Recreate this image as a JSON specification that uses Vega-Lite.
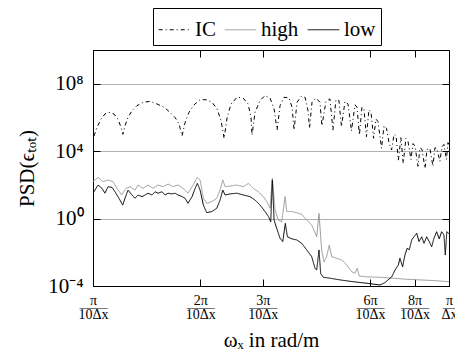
{
  "$schema": "https://vega.github.io/schema/vega-lite/v6.json",
  "width": 356,
  "height": 236,
  "autosize": "none",
  "padding": {"left": 93, "top": 50, "right": 6, "bottom": 70},
  "config": {
    "font": "Liberation Serif",
    "view": {"stroke": "black", "strokeWidth": 1},
    "axis": {"labelFont": "Liberation Serif", "titleFont": "Liberation Serif", "labelColor": "black", "titleColor": "black", "titleFontWeight": "normal", "tickColor": "black", "domainColor": "black"},
    "legend": {"labelFont": "Liberation Serif"}
  },
  "resolve": {"axis": {"x": "independent", "y": "independent"}},
  "datasets": {
    "ic": [
      {"w":1.0065,"v":7.9e4},{"w":1.026,"v":2.5e5},{"w":1.053,"v":7.9e5},{"w":1.08,"v":1.6e6},{"w":1.109,"v":2.0e6},{"w":1.145,"v":1.6e6},{"w":1.176,"v":7.9e5},{"w":1.199,"v":2.5e5},{"w":1.214,"v":1.0e5},{"w":1.23,"v":3.2e5},{"w":1.254,"v":1.0e6},{"w":1.287,"v":2.5e6},{"w":1.329,"v":5.0e6},{"w":1.382,"v":7.9e6},{"w":1.446,"v":8.9e6},{"w":1.513,"v":6.3e6},{"w":1.584,"v":4.0e6},{"w":1.646,"v":2.0e6},{"w":1.7,"v":1.0e6},{"w":1.745,"v":4.0e5},{"w":1.779,"v":7.9e4},{"w":1.814,"v":5.0e5},{"w":1.861,"v":2.0e6},{"w":1.923,"v":5.6e6},{"w":1.999,"v":1.12e7},{"w":2.078,"v":1.12e7},{"w":2.16,"v":7.9e6},{"w":2.231,"v":3.2e6},{"w":2.29,"v":6.3e5},{"w":2.335,"v":5.6e4},{"w":2.381,"v":1.0e6},{"w":2.443,"v":6.3e6},{"w":2.54,"v":1.58e7},{"w":2.64,"v":1.41e7},{"w":2.727,"v":6.3e6},{"w":2.779,"v":1.0e6},{"w":2.797,"v":8.9e4},{"w":2.852,"v":2.0e6},{"w":2.946,"v":1.0e7},{"w":3.043,"v":2.0e7},{"w":3.143,"v":1.41e7},{"w":3.226,"v":3.2e6},{"w":3.289,"v":1.78e5},{"w":3.353,"v":5.0e6},{"w":3.441,"v":1.58e7},{"w":3.554,"v":1.41e7},{"w":3.624,"v":4.0e6},{"w":3.671,"v":1.78e5},{"w":3.743,"v":7.9e6},{"w":3.841,"v":1.78e7},{"w":3.942,"v":1.58e7},{"w":4.019,"v":2.5e6},{"w":4.057,"v":2.24e5},{"w":4.123,"v":7.9e6},{"w":4.231,"v":1.41e7},{"w":4.34,"v":7.9e6},{"w":4.396,"v":3.2e5},{"w":4.512,"v":8.9e6},{"w":4.63,"v":1.26e7},{"w":4.721,"v":1.78e5},{"w":4.813,"v":1.12e7},{"w":4.908,"v":1.0e7},{"w":4.988,"v":2.82e5},{"w":5.103,"v":8.9e6},{"w":5.203,"v":6.3e6},{"w":5.322,"v":1.58e5},{"w":5.443,"v":5.6e6},{"w":5.515,"v":4.0e6},{"w":5.602,"v":9.1e4},{"w":5.693,"v":4.0e6},{"w":5.768,"v":3.2e6},{"w":5.863,"v":7.2e4},{"w":5.957,"v":2.8e6},{"w":6.039,"v":2.0e6},{"w":6.139,"v":5.8e4},{"w":6.238,"v":7.9e5},{"w":6.319,"v":5.6e5},{"w":6.463,"v":1.48e4},{"w":6.568,"v":3.2e5},{"w":6.675,"v":2.24e5},{"w":6.784,"v":3.2e4},{"w":6.897,"v":1.17e4},{"w":7.01,"v":1.0e5},{"w":7.1,"v":7.9e4},{"w":7.209,"v":2.95e3},{"w":7.327,"v":6.3e4},{"w":7.437,"v":1.9e3},{"w":7.568,"v":5.6e4},{"w":7.667,"v":4.0e4},{"w":7.82,"v":3.2e3},{"w":7.922,"v":2.8e4},{"w":8.026,"v":2.0e4},{"w":8.183,"v":1.26e3},{"w":8.29,"v":1.58e4},{"w":8.398,"v":1.26e4},{"w":8.563,"v":955},{"w":8.675,"v":1.26e4},{"w":8.84,"v":1.41e4},{"w":9.013,"v":1.26e3},{"w":9.131,"v":1.58e4},{"w":9.25,"v":1.41e4},{"w":9.43,"v":2.5e3},{"w":9.553,"v":1.78e4},{"w":9.678,"v":2.5e4},{"w":9.837,"v":3.2e3},{"w":9.932,"v":3.2e4},{"w":10,"v":2.5e4}
    ],
    "high": [
      {"w":1.0,"v":155},{"w":1.033,"v":282},{"w":1.0665,"v":155},{"w":1.102,"v":195},{"w":1.138,"v":155},{"w":1.176,"v":49},{"w":1.204,"v":25},{"w":1.238,"v":62},{"w":1.27,"v":78},{"w":1.312,"v":49},{"w":1.338,"v":98},{"w":1.382,"v":62},{"w":1.427,"v":98},{"w":1.474,"v":62},{"w":1.523,"v":98},{"w":1.573,"v":78},{"w":1.625,"v":112},{"w":1.678,"v":78},{"w":1.734,"v":98},{"w":1.79,"v":62},{"w":1.849,"v":32},{"w":1.911,"v":98},{"w":1.964,"v":282},{"w":1.999,"v":195},{"w":2.042,"v":16},{"w":2.087,"v":8.1},{"w":2.156,"v":10},{"w":2.227,"v":16},{"w":2.275,"v":49},{"w":2.315,"v":195},{"w":2.35,"v":78},{"w":2.427,"v":85},{"w":2.535,"v":98},{"w":2.645,"v":78},{"w":2.733,"v":123},{"w":2.821,"v":62},{"w":2.914,"v":39},{"w":3.01,"v":20},{"w":3.077,"v":10},{"w":3.143,"v":4.1},{"w":3.19,"v":245},{"w":3.246,"v":3.2},{"w":3.317,"v":0.81},{"w":3.39,"v":0.65},{"w":3.463,"v":20},{"w":3.502,"v":2.6},{"w":3.617,"v":2.6},{"w":3.736,"v":2.24},{"w":3.858,"v":1.78},{"w":3.985,"v":0.81},{"w":4.115,"v":0.42},{"w":4.25,"v":0.083},{"w":4.314,"v":2.0},{"w":4.388,"v":0.0138},{"w":4.454,"v":0.00275},{"w":4.533,"v":0.0055},{"w":4.609,"v":0.027},{"w":4.681,"v":0.0055},{"w":4.836,"v":0.0044},{"w":4.995,"v":0.0035},{"w":5.159,"v":0.0018},{"w":5.328,"v":0.00071},{"w":5.443,"v":0.00056},{"w":5.524,"v":0.00112},{"w":5.595,"v":0.00039},{"w":5.87,"v":0.00035},{"w":6.4,"v":0.00033},{"w":6.977,"v":0.00029},{"w":7.603,"v":0.00025},{"w":8.29,"v":0.00023},{"w":9.02,"v":0.00021},{"w":10,"v":0.00018}
    ],
    "low": [
      {"w":1.0,"v":31.6},{"w":1.033,"v":98},{"w":1.06,"v":62},{"w":1.08,"v":32},{"w":1.102,"v":78},{"w":1.131,"v":71},{"w":1.153,"v":39},{"w":1.183,"v":16},{"w":1.212,"v":6.3},{"w":1.23,"v":16},{"w":1.254,"v":49},{"w":1.287,"v":25},{"w":1.312,"v":16},{"w":1.338,"v":25},{"w":1.373,"v":20},{"w":1.4,"v":25},{"w":1.427,"v":32},{"w":1.465,"v":25},{"w":1.494,"v":39},{"w":1.523,"v":32},{"w":1.563,"v":39},{"w":1.594,"v":25},{"w":1.625,"v":32},{"w":1.667,"v":29},{"w":1.7,"v":32},{"w":1.734,"v":25},{"w":1.779,"v":20},{"w":1.814,"v":16},{"w":1.849,"v":8.1},{"w":1.898,"v":20},{"w":1.936,"v":62},{"w":1.964,"v":123},{"w":1.999,"v":49},{"w":2.042,"v":6.3},{"w":2.087,"v":2.24},{"w":2.156,"v":2.6},{"w":2.227,"v":4.1},{"w":2.275,"v":12.6},{"w":2.315,"v":49},{"w":2.35,"v":25},{"w":2.427,"v":29},{"w":2.535,"v":32},{"w":2.645,"v":25},{"w":2.761,"v":20},{"w":2.852,"v":12.6},{"w":2.946,"v":6.3},{"w":3.043,"v":2.6},{"w":3.113,"v":1.29},{"w":3.157,"v":0.65},{"w":3.19,"v":195},{"w":3.226,"v":0.81},{"w":3.282,"v":0.26},{"w":3.353,"v":0.068},{"w":3.412,"v":0.043},{"w":3.47,"v":0.52},{"w":3.516,"v":0.083},{"w":3.617,"v":0.063},{"w":3.736,"v":0.054},{"w":3.858,"v":0.034},{"w":3.985,"v":0.0138},{"w":4.115,"v":0.0055},{"w":4.204,"v":0.00112},{"w":4.25,"v":0.00089},{"w":4.314,"v":0.0138},{"w":4.36,"v":0.00056},{"w":4.434,"v":0.00033},{"w":4.63,"v":0.00029},{"w":4.94,"v":0.00023},{"w":5.373,"v":0.00018},{"w":5.881,"v":0.000145},{"w":6.4,"v":0.000115},{"w":6.611,"v":0.000158},{"w":6.741,"v":0.00023},{"w":6.906,"v":0.00035},{"w":7.055,"v":0.00089},{"w":7.209,"v":0.0018},{"w":7.28,"v":0.0044},{"w":7.409,"v":0.00138},{"w":7.52,"v":0.0069},{"w":7.631,"v":0.0174},{"w":7.735,"v":0.0141},{"w":7.856,"v":0.054},{"w":7.974,"v":0.083},{"w":8.115,"v":0.135},{"w":8.236,"v":0.043},{"w":8.382,"v":0.083},{"w":8.508,"v":0.034},{"w":8.658,"v":0.083},{"w":8.8,"v":0.043},{"w":8.938,"v":0.021},{"w":9.073,"v":0.068},{"w":9.233,"v":0.166},{"w":9.388,"v":0.063},{"w":9.535,"v":0.166},{"w":9.678,"v":0.107},{"w":9.763,"v":0.0069},{"w":9.861,"v":0.166},{"w":10,"v":0.126}
    ]
  },
  "layer": [
    {
      "data": {"name": "ic"},
      "transform": [{"calculate": "'IC'", "as": "s"}],
      "mark": {"type": "line", "strokeWidth": 1, "clip": true},
      "encoding": {
        "x": {"field": "w", "type": "quantitative", "scale": {"type": "log", "domain": [1, 10], "nice": false},
          "axis": {"orient": "bottom", "values": [1, 2, 3, 6, 8, 10], "labelExpr": "datum.value == 1 ? ['π', '——', '10Δx'] : datum.value == 10 ? ['π', '—', 'Δx'] : [datum.value + 'π', '——', '10Δx']", "labelFontSize": 14, "labelLineHeight": 7, "labelBaseline": "top", "tickSize": -7, "labelPadding": 14, "grid": false, "title": "ωₓ in rad/m", "titleFontSize": 21, "titlePadding": 8, "labelFlush": false, "labelOverlap": false}},
        "y": {"field": "v", "type": "quantitative", "scale": {"type": "log", "domain": [0.0001, 1e10], "nice": false},
          "axis": {"orient": "left", "values": [0.0001, 1, 10000, 100000000], "labelExpr": "datum.value < 0.001 ? '10⁻⁴' : datum.value < 10 ? '10⁰' : datum.value < 1e6 ? '10⁴' : '10⁸'", "labelFontSize": 21, "tickSize": -7, "labelPadding": 17, "grid": true, "gridColor": "#b0b0b0", "gridWidth": 1, "title": "PSD(ϵₜₒₜ)", "titleFontSize": 21, "titlePadding": 10, "labelFlush": false, "labelOverlap": false}},
        "color": {"field": "s", "type": "nominal", "scale": {"domain": ["IC", "high", "low"], "range": ["black", "#9a9a9a", "black"]},
          "legend": {"title": null, "orient": "none", "legendX": 60, "legendY": -42, "direction": "horizontal", "symbolType": "stroke", "symbolSize": 1000, "symbolStrokeWidth": 1, "labelFontSize": 21, "labelOffset": 4, "columnPadding": 6, "strokeColor": "black", "padding": 5, "fillColor": "white"}},
        "strokeDash": {"field": "s", "type": "nominal", "scale": {"domain": ["IC", "high", "low"], "range": [[4, 3, 1, 3], [1, 0], [1, 0]]}, "legend": null}
      }
    },
    {
      "data": {"name": "high"},
      "transform": [{"calculate": "'high'", "as": "s"}],
      "mark": {"type": "line", "strokeWidth": 1, "clip": true},
      "encoding": {
        "x": {"field": "w", "type": "quantitative", "axis": {"orient": "top", "values": [1, 2, 3, 6, 8, 10], "labels": false, "tickSize": -7, "domain": false, "grid": false, "title": null}},
        "y": {"field": "v", "type": "quantitative", "axis": {"orient": "right", "values": [0.0001, 1, 10000, 100000000], "labels": false, "tickSize": -7, "domain": false, "grid": false, "title": null}},
        "color": {"field": "s", "type": "nominal"},
        "strokeDash": {"field": "s", "type": "nominal"}
      }
    },
    {
      "data": {"name": "low"},
      "transform": [{"calculate": "'low'", "as": "s"}],
      "mark": {"type": "line", "strokeWidth": 1, "clip": true},
      "encoding": {
        "x": {"field": "w", "type": "quantitative", "axis": null},
        "y": {"field": "v", "type": "quantitative", "axis": null},
        "color": {"field": "s", "type": "nominal"},
        "strokeDash": {"field": "s", "type": "nominal"}
      }
    }
  ]
}
